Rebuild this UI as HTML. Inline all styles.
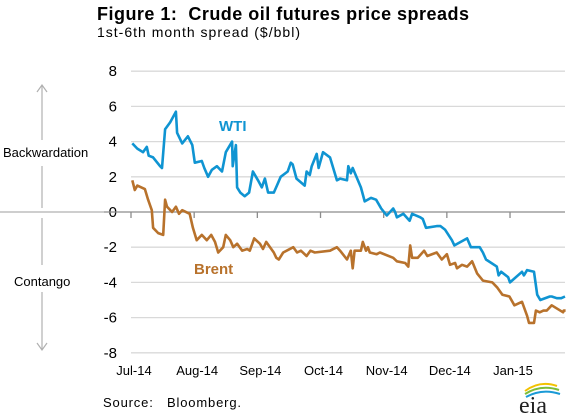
<!DOCTYPE html>
<html><head><meta charset="utf-8"><style>
body{margin:0;background:#fff;width:570px;height:414px;overflow:hidden;font-family:"Liberation Sans",Arial,sans-serif}
</style></head><body>
<svg width="570" height="414" viewBox="0 0 570 414" id="svg">
<text x="97" y="20" font-size="18" font-weight="bold" fill="#000" textLength="372" lengthAdjust="spacing">Figure 1:&#160; Crude oil futures price spreads</text>
<text x="97" y="37" font-size="14" fill="#000" textLength="203" lengthAdjust="spacing">1st-6th month spread ($/bbl)</text>
<g id="grid"></g>
<g id="yt"></g>
<g id="xt"></g>
<g stroke="#b0b0b0" stroke-width="1.2" fill="none">
<line x1="0" y1="212" x2="104" y2="212"/>
<line x1="42" y1="85" x2="42" y2="140"/><line x1="42" y1="166" x2="42" y2="208"/>
<polyline points="37,92 42,85 47,92"/>
<line x1="42" y1="218" x2="42" y2="265"/><line x1="42" y1="292" x2="42" y2="350"/>
<polyline points="37,343 42,350 47,343"/>
</g>
<text x="3" y="157" font-size="13">Backwardation</text>
<text x="14" y="286" font-size="13">Contango</text>
<g id="series"></g>
<text x="219" y="131" font-size="15" font-weight="bold" fill="#0f94d2">WTI</text>
<text x="194" y="274" font-size="15" font-weight="bold" fill="#b8722c">Brent</text>
<text x="103" y="407" font-size="13" textLength="138" lengthAdjust="spacing">Source:&#160;&#160; Bloomberg.</text>
<g>
<path d="M525 391 Q540 380 557 386" stroke="#f2c200" stroke-width="2" fill="none"/>
<path d="M525 394 Q541 384 559 390" stroke="#7cbd3a" stroke-width="2" fill="none"/>
<path d="M526 397 Q542 388 560 394" stroke="#1a9ad6" stroke-width="2" fill="none"/>
<text x="519" y="413" font-family="Liberation Serif,serif" font-size="24" fill="#222">eia</text>
</g>
</svg>
<script>
const yTicks=[8,6,4,2,0,-2,-4,-6,-8];
const xLabels=["Jul-14","Aug-14","Sep-14","Oct-14","Nov-14","Dec-14","Jan-15"];
const wtiX=[0.02,0.1,0.19,0.25,0.28,0.35,0.46,0.49,0.54,0.62,0.71,0.73,0.81,0.90,0.97,1.01,1.12,1.16,1.22,1.28,1.36,1.44,1.50,1.60,1.61,1.66,1.68,1.73,1.80,1.87,1.93,2.01,2.07,2.12,2.17,2.26,2.31,2.37,2.48,2.53,2.56,2.62,2.75,2.78,2.83,2.86,2.94,2.97,3.04,3.15,3.26,3.31,3.42,3.44,3.48,3.51,3.64,3.70,3.80,3.88,3.96,4.05,4.15,4.18,4.21,4.31,4.41,4.45,4.58,4.62,4.67,4.84,4.90,4.97,5.08,5.12,5.32,5.38,5.52,5.57,5.62,5.79,5.82,5.86,5.97,6.00,6.19,6.22,6.27,6.38,6.43,6.48,6.63,6.66,6.74,6.81,6.87];
const wtiY=[3.9,3.6,3.4,3.7,3.2,3.1,2.6,2.5,4.7,5.1,5.7,4.5,3.9,4.3,3.8,2.8,2.9,2.5,2.0,2.4,2.6,2.3,3.4,4.0,2.6,3.8,1.4,1.1,0.9,1.1,2.3,1.8,1.4,1.9,1.1,1.1,1.5,2.0,2.3,2.8,2.7,1.9,1.5,2.3,2.1,2.6,3.3,2.5,3.4,3.1,1.8,1.9,1.8,2.6,2.2,2.5,1.4,0.6,0.8,0.7,0.2,-0.2,0.2,0,-0.3,-0.1,-0.5,-0.1,-0.3,-0.4,-0.9,-0.8,-0.8,-1.0,-1.6,-1.9,-1.5,-2.0,-2.0,-2.3,-2.7,-3.1,-3.6,-3.4,-3.7,-4.0,-3.4,-3.6,-3.3,-3.4,-4.7,-5.0,-4.8,-4.8,-4.9,-4.9,-4.8];
const brentX=[0.02,0.06,0.1,0.22,0.27,0.33,0.35,0.43,0.51,0.54,0.57,0.65,0.71,0.76,0.81,0.93,0.98,1.04,1.12,1.20,1.27,1.33,1.38,1.46,1.50,1.57,1.62,1.68,1.76,1.84,1.88,1.95,2.04,2.09,2.14,2.26,2.30,2.34,2.41,2.57,2.63,2.69,2.78,2.84,2.91,3.15,3.26,3.31,3.42,3.48,3.51,3.54,3.64,3.67,3.72,3.75,3.78,3.89,3.94,4.15,4.21,4.34,4.39,4.42,4.45,4.54,4.64,4.69,4.84,4.92,5.00,5.05,5.13,5.16,5.24,5.32,5.40,5.48,5.57,5.72,5.80,5.88,5.99,6.07,6.19,6.27,6.30,6.38,6.41,6.47,6.53,6.58,6.66,6.84,6.85,6.88];
const brentY=[1.8,1.25,1.5,1.3,0.7,0.1,-0.9,-1.2,-1.3,0.7,0.3,0,0.3,-0.1,0.1,-0.1,-0.9,-1.6,-1.3,-1.6,-1.3,-1.7,-2.3,-2.0,-1.3,-1.6,-2.0,-1.8,-2.2,-2.1,-2.2,-1.5,-1.8,-2.1,-1.7,-2.3,-2.6,-2.7,-2.3,-2.0,-2.3,-2.2,-2.5,-2.2,-2.3,-2.2,-2.0,-2.2,-2.7,-2.2,-3.2,-2.2,-2.2,-1.7,-2.2,-2.0,-2.3,-2.4,-2.3,-2.6,-2.8,-2.9,-3.1,-1.9,-2.6,-2.6,-2.2,-2.5,-2.3,-2.7,-2.4,-3.0,-2.9,-3.2,-3.0,-3.1,-2.8,-3.5,-3.9,-4.0,-4.3,-4.7,-4.8,-5.3,-5.1,-5.9,-6.3,-6.3,-5.6,-5.7,-5.6,-5.6,-5.3,-5.7,-5.6,-5.6];
const NS="http://www.w3.org/2000/svg";
const x0=131,mw=63.17,y0=212,uy=17.6;
function sx(m){return x0+m*mw;}
function sy(v){return y0-v*uy;}
function mk(t,a,p){const e=document.createElementNS(NS,t);for(const k in a)e.setAttribute(k,a[k]);p.appendChild(e);return e;}
const grid=document.getElementById('grid'),yt=document.getElementById('yt'),xt=document.getElementById('xt'),ser=document.getElementById('series');
yTicks.forEach(v=>{
 if(v!==0){const l=mk('line',{x1:131,x2:565,y1:sy(v),y2:sy(v),stroke:'#d9d9d9','stroke-width':1.3},grid);
 
 }
 const t=mk('text',{x:117,y:sy(v)+5,'text-anchor':'end','font-size':15},yt);t.textContent=v;
 
 
});
const ax=mk('line',{x1:104,x2:565,y1:y0,y2:y0,stroke:'#8c8c8c','stroke-width':1.3},xt);


xLabels.forEach((s,i)=>{
 const tk=mk('line',{x1:sx(i),x2:sx(i),y1:y0,y2:y0+6,stroke:'#8c8c8c','stroke-width':1.3},xt);
 
 
 const t=mk('text',{x:sx(i)+3,y:375,'text-anchor':'middle','font-size':13},xt);t.textContent=s;
 
 
});
function line(X,Y,c,n){
 const p=mk('polyline',{points:X.map((x,i)=>sx(x).toFixed(1)+','+sy(Y[i]).toFixed(1)).join(' '),fill:'none',stroke:c,'stroke-width':2.6,'stroke-linejoin':'round'},ser);
 
 
}
line(wtiX,wtiY,'#0f94d2','wti-line');
line(brentX,brentY,'#b8722c','brent-line');
</script>
</body></html>
